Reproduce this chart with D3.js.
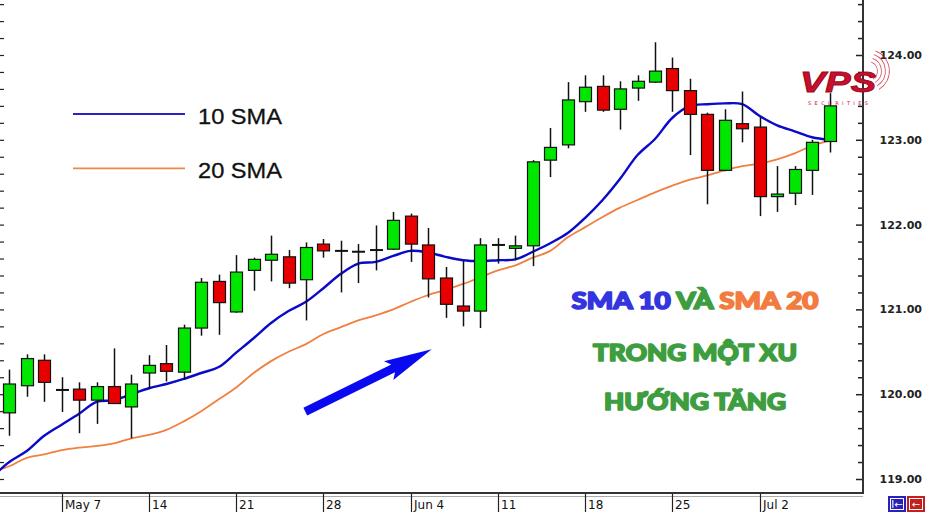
<!DOCTYPE html>
<html><head><meta charset="utf-8">
<script src="https://cdn.jsdelivr.net/npm/d3@7/dist/d3.min.js"></script>
<style>body{margin:0;background:#fff}svg{display:block}</style>
</head><body><svg id="c" width="925" height="512"></svg>
<script>
// ---- data ----
const openP  = [119.78,120.10,120.40,120.05,120.06,119.93,120.09,119.85,120.25,120.36,120.26,120.78,121.33,120.97,121.46,121.58,121.62,121.35,121.77,121.69,121.68,121.70,121.71,122.10,121.76,121.37,121.04,120.98,121.76,121.72,121.75,122.76,122.94,123.45,123.63,123.36,123.61,123.68,123.84,123.58,123.30,122.64,123.19,123.15,122.33,122.37,122.64,122.98];
const highP  = [120.29,120.47,120.47,120.20,120.14,120.14,120.54,120.23,120.46,120.58,120.82,121.37,121.41,121.64,121.61,121.87,121.70,121.79,121.83,121.81,121.77,121.99,122.15,122.13,121.96,121.50,121.57,121.84,121.84,121.87,122.76,123.14,123.68,123.76,123.76,123.69,123.76,124.15,123.97,123.72,123.32,123.36,123.57,123.27,122.69,122.69,123.00,123.55];
const lowP   = [119.51,119.97,119.91,119.79,119.54,119.65,119.89,119.48,120.06,120.15,120.17,120.69,120.70,120.96,121.22,121.33,121.25,120.87,121.61,121.20,121.31,121.46,121.70,121.56,121.14,120.90,120.80,120.78,121.54,121.58,121.51,122.56,122.90,123.33,123.33,123.12,123.46,123.67,123.33,122.82,122.24,122.63,122.97,122.10,122.15,122.23,122.35,122.85];
const closeP = [120.12,120.42,120.14,120.05,119.93,120.09,119.89,120.12,120.34,120.27,120.78,121.32,121.08,121.44,121.59,121.65,121.31,121.73,121.69,121.69,121.68,121.70,122.05,121.77,121.36,121.06,120.98,121.76,121.76,121.75,122.74,122.91,123.47,123.62,123.35,123.60,123.69,123.81,123.58,123.30,122.64,123.23,123.13,122.33,122.36,122.65,122.97,123.40];
// moving averages, first value belongs to the session before the first visible candle
const sma10 = [119.02,119.20,119.33,119.51,119.64,119.77,119.91,119.93,120.00,120.07,120.12,120.18,120.25,120.32,120.49,120.66,120.84,120.98,121.09,121.25,121.42,121.54,121.56,121.63,121.69,121.67,121.62,121.58,121.57,121.58,121.59,121.68,121.78,121.90,122.08,122.29,122.54,122.82,123.01,123.26,123.40,123.42,123.43,123.42,123.28,123.17,123.10,123.03,123.00];
const sma20 = [119.09,119.15,119.25,119.29,119.34,119.37,119.39,119.42,119.48,119.52,119.58,119.68,119.80,119.94,120.08,120.25,120.39,120.50,120.59,120.71,120.79,120.87,120.93,121.00,121.09,121.17,121.23,121.30,121.38,121.46,121.52,121.61,121.69,121.85,121.97,122.09,122.20,122.29,122.38,122.46,122.53,122.58,122.64,122.69,122.72,122.77,122.84,122.93,122.99];
const smaStart = -1;
const tickIdx    = [3,8,13,18,23,28,33,38,43];
const tickLabels = ["May 7","14","21","28","Jun 4","11","18","25","Jul 2"];
const yLabels    = [119,120,121,122,123,124];
const legendNames = ["10 SMA","20 SMA"];
const titleLine1 = [["SMA 10 ","#3535e0"],["VÀ ","#3d9d3f"],["SMA 20","#f27b3f"]];
const titleLine2 = "TRONG MỘT XU";
const titleLine3 = "HƯỚNG TĂNG";

// ---- layout ----
const W=925,H=512, plotR=863, plotB=493;
const svg=d3.select("#c");
const x=d3.scaleLinear().domain([0,47]).range([9.3,829.5]);
const y=d3.scaleLinear().domain([119,124]).range([479,55]);
svg.append("rect").attr("width",W).attr("height",H).attr("fill","#fff");
svg.append("defs").append("clipPath").attr("id","clip").append("rect")
  .attr("x",0).attr("y",0).attr("width",plotR).attr("height",plotB);
const plot=svg.append("g").attr("clip-path","url(#clip)");

// minor/major tick marks (right axis, pointing inward) and left edge ticks
const tv=d3.range(118.8,124.81,0.2).map(v=>+v.toFixed(1)).filter(v=>y(v)>2&&y(v)<plotB-2);
const isMajor=v=>Math.abs(v-Math.round(v))<1e-6;
const ra=svg.append("g").attr("transform",`translate(${plotR},0)`)
  .call(d3.axisLeft(y).tickValues(tv).tickSize(4).tickFormat(""));
ra.select(".domain").remove();
ra.selectAll(".tick line").attr("stroke","#222").attr("stroke-width",1.5)
  .attr("x2",d=>isMajor(d)?-7:-5);
const la=svg.append("g").attr("transform","translate(0,0)")
  .call(d3.axisRight(y).tickValues(tv).tickSize(4).tickFormat(""));
la.select(".domain").remove();
la.selectAll(".tick line").attr("stroke","#222").attr("stroke-width",1.2);

// right axis labels
svg.append("g").selectAll("text").data(yLabels).join("text")
  .attr("x",922).attr("y",d=>y(d)+4).attr("text-anchor","end")
  .attr("font-family","DejaVu Sans, Verdana, sans-serif").attr("font-weight","bold")
  .attr("font-size",11).attr("fill","#222").text(d3.format(".2f"));

// frame lines
svg.append("line").attr("x1",plotR).attr("x2",plotR).attr("y1",0).attr("y2",plotB+1)
  .attr("stroke","#333").attr("stroke-width",2);
svg.append("line").attr("x1",0).attr("x2",plotR).attr("y1",plotB).attr("y2",plotB)
  .attr("stroke","#333").attr("stroke-width",2);
svg.append("line").attr("x1",0).attr("x2",plotR).attr("y1",plotB+3.5).attr("y2",plotB+3.5)
  .attr("stroke","#aaa").attr("stroke-width",1);

// x axis separators + labels
const xa=svg.append("g");
xa.selectAll("line").data(tickIdx).join("line")
  .attr("x1",d=>Math.round(x(d))+0.5).attr("x2",d=>Math.round(x(d))+0.5)
  .attr("y1",plotB+1).attr("y2",H).attr("stroke","#222").attr("stroke-width",1.2);
xa.selectAll("text").data(tickIdx).join("text")
  .attr("x",d=>Math.round(x(d))+3).attr("y",509)
  .attr("font-family","DejaVu Sans, Tahoma, sans-serif").attr("font-size",12).attr("fill","#111")
  .text((d,i)=>tickLabels[i]);

// buttons bottom right
svg.append("rect").attr("x",888).attr("y",496).attr("width",18).attr("height",16).attr("fill","#2a22b8");
svg.append("rect").attr("x",907).attr("y",496).attr("width",18).attr("height",16).attr("fill","#c42020");
svg.append("rect").attr("x",890.5).attr("y",498.5).attr("width",13).attr("height",11).attr("fill","none").attr("stroke","#fff").attr("stroke-width",1);
svg.append("rect").attr("x",909.5).attr("y",498.5).attr("width",13).attr("height",11).attr("fill","none").attr("stroke","#fff").attr("stroke-width",1);
svg.append("text").attr("x",897).attr("y",508).attr("text-anchor","middle").attr("font-size",10).attr("font-family","DejaVu Sans").attr("fill","#fff").text("I←");
svg.append("text").attr("x",916).attr("y",508).attr("text-anchor","middle").attr("font-size",10).attr("font-family","DejaVu Sans").attr("fill","#fff").text("←");

// moving averages
const smaLine=d3.line().x((d,i)=>x(i+smaStart)).y(d=>y(d)).curve(d3.curveCatmullRom.alpha(0.5));
plot.append("path").datum(sma20).attr("d",smaLine).attr("fill","none")
  .attr("stroke","#f08040").attr("stroke-width",1.8);
plot.append("path").datum(sma10).attr("d",smaLine).attr("fill","none")
  .attr("stroke","#0a0ac8").attr("stroke-width",2.4);

// candles
const idx=d3.range(openP.length);
const bw=12;
const cg=plot.append("g");
cg.selectAll("line.w").data(idx).join("line").attr("class","w")
  .attr("x1",i=>Math.round(x(i))+0.5).attr("x2",i=>Math.round(x(i))+0.5)
  .attr("y1",i=>y(highP[i])).attr("y2",i=>y(lowP[i]))
  .attr("stroke","#111").attr("stroke-width",1.5);
const bodies=idx.filter(i=>Math.abs(openP[i]-closeP[i])>=0.01);
const dojis=idx.filter(i=>Math.abs(openP[i]-closeP[i])<0.01);
cg.selectAll("rect.b").data(bodies).join("rect").attr("class","b")
  .attr("x",i=>Math.round(x(i))-bw/2+0.5).attr("width",bw)
  .attr("y",i=>y(Math.max(openP[i],closeP[i])))
  .attr("height",i=>Math.max(1,y(Math.min(openP[i],closeP[i]))-y(Math.max(openP[i],closeP[i]))))
  .attr("fill",i=>closeP[i]>openP[i]?"#00e600":"#e80000")
  .attr("stroke","#111").attr("stroke-width",1.2);
cg.selectAll("line.d").data(dojis).join("line").attr("class","d")
  .attr("x1",i=>Math.round(x(i))-bw/2).attr("x2",i=>Math.round(x(i))+bw/2+1)
  .attr("y1",i=>y(openP[i])).attr("y2",i=>y(openP[i]))
  .attr("stroke","#111").attr("stroke-width",2);

// legend
const lg=svg.append("g");
[["#2a22c8",114],["#f08848",168.3]].forEach(([c,yy],k)=>{
  lg.append("line").attr("x1",73).attr("x2",185).attr("y1",yy).attr("y2",yy).attr("stroke",c).attr("stroke-width",1.8);
  lg.append("text").attr("x",198).attr("y",yy+10).attr("font-family","Liberation Sans, Arial, sans-serif")
    .attr("font-size",22.5).attr("fill","#111").attr("stroke","#111").attr("stroke-width",0.3)
    .attr("textLength",84).attr("lengthAdjust","spacingAndGlyphs")
    .text(legendNames[k]);
});

// arrow
(function(){
  const tail=[305.3,411.7], tip=[431.7,349.3];
  const dx=tip[0]-tail[0], dy=tip[1]-tail[1], L=Math.hypot(dx,dy);
  const u=[dx/L,dy/L], n=[-u[1],u[0]];
  const hl=46, hw=10.5, sw=4.3;
  const b=[tip[0]-hl*u[0], tip[1]-hl*u[1]];
  const pt=(p,s,k)=>[p[0]+n[0]*s+u[0]*k, p[1]+n[1]*s+u[1]*k];
  const pts=[pt(tail,sw,0),pt(b,sw,3),pt(b,hw,-2),tip,pt(b,-hw,-2),pt(b,-sw,3),pt(tail,-sw,0)];
  svg.append("polygon").attr("points",pts.map(p=>p.join(",")).join(" ")).attr("fill","#0a0af0");
})();

// annotation text (heavy)
const tf="Lato, Roboto, 'DejaVu Sans', sans-serif";
function heavy(sel,c){ return sel.attr("font-family",tf).attr("font-weight",900).attr("font-size",22)
  .attr("stroke-width",1.6).attr("stroke-linejoin","round").attr("paint-order","stroke"); }
const t1=heavy(svg.append("text").attr("x",695).attr("y",309).attr("text-anchor","middle"))
  .attr("textLength",247).attr("lengthAdjust","spacingAndGlyphs");
titleLine1.forEach(([s,c])=>t1.append("tspan").attr("fill",c).attr("stroke",c).text(s));
heavy(svg.append("text").attr("x",695).attr("y",361).attr("text-anchor","middle"))
  .attr("fill","#3d9d3f").attr("stroke","#3d9d3f")
  .attr("textLength",204).attr("lengthAdjust","spacingAndGlyphs").text(titleLine2);
heavy(svg.append("text").attr("x",695).attr("y",410).attr("text-anchor","middle"))
  .attr("fill","#3d9d3f").attr("stroke","#3d9d3f")
  .attr("textLength",182).attr("lengthAdjust","spacingAndGlyphs").text(titleLine3);

// VPS logo
const lgo=svg.append("g");
[9,13,17,21].forEach(r=>{
  lgo.append("path").attr("d",d3.arc()({innerRadius:r,outerRadius:r+0.8,startAngle:0.35,endAngle:2.6}))
    .attr("transform","translate(868,71)").attr("fill","#c8203a").attr("opacity",0.8);
});
lgo.append("text").attr("x",838).attr("y",92).attr("text-anchor","middle")
  .attr("font-family","Liberation Sans, Arial, sans-serif").attr("font-weight","bold").attr("font-style","italic")
  .attr("font-size",30).attr("fill","#c8102e").attr("stroke","#a00820").attr("stroke-width",1)
  .attr("textLength",76).attr("lengthAdjust","spacingAndGlyphs").text("VPS");
lgo.append("text").attr("x",838).attr("y",105).attr("text-anchor","middle")
  .attr("font-family","DejaVu Sans, sans-serif").attr("font-size",5).attr("fill","#c8102e")
  .attr("textLength",60).attr("lengthAdjust","spacing").text("SECURITIES");
</script></body></html>
